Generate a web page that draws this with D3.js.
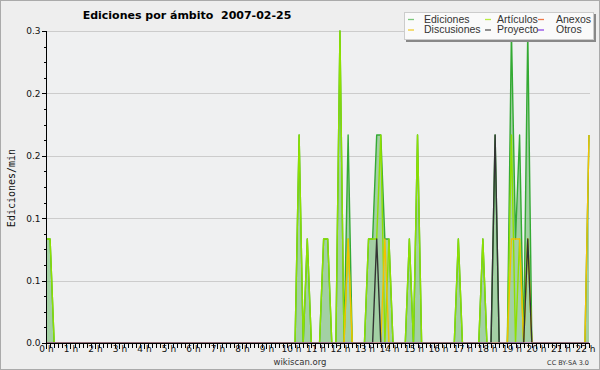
<!DOCTYPE html>
<html>
<head>
<meta charset="utf-8">
<title>Ediciones por ámbito</title>
<script src="https://cdn.jsdelivr.net/npm/d3@7"></script>
<style>
  body { margin: 0; background: #fff; }
  text { font-family: "DejaVu Sans", sans-serif; }
  .axis path, .axis line { stroke: #000; shape-rendering: crispEdges; }
  .axis text { font-size: 9px; fill: #111; }
</style>
</head>
<body>
<script>
// 10-minute bins, 00:00 .. 22:10 (134 bins), edits per minute
var ediciones = [
  0.1,0.1,0,0,0,0, 0,0,0,0,0,0,   // 0 h - 1 h
  0,0,0,0,0,0, 0,0,0,0,0,0,       // 2 h - 3 h
  0,0,0,0,0,0, 0,0,0,0,0,0,       // 4 h - 5 h
  0,0,0,0,0,0, 0,0,0,0,0,0,       // 6 h - 7 h
  0,0,0,0,0,0, 0,0,0,0,0,0,       // 8 h - 9 h
  0,0,0.2,0,0.1,0, 0,0,0.1,0.1,0,0,     // 10 h - 11 h
  0.3,0,0.2,0,0,0, 0,0.1,0.1,0.2,0.2,0.1, // 12 h - 13 h
  0.1,0,0,0,0,0.1, 0,0.2,0,0,0,0,       // 14 h - 15 h
  0,0,0,0,0,0.1, 0,0,0,0,0,0.1,         // 16 h - 17 h
  0,0,0.2,0,0,0, 0.3,0.1,0.2,0,0.3,0,   // 18 h - 19 h
  0,0,0,0,0,0, 0,0,0,0,0,0,             // 20 h - 21 h
  0,0.2                                 // 22 h
];
var articulos = [
  0.1,0.1,0,0,0,0, 0,0,0,0,0,0,
  0,0,0,0,0,0, 0,0,0,0,0,0,
  0,0,0,0,0,0, 0,0,0,0,0,0,
  0,0,0,0,0,0, 0,0,0,0,0,0,
  0,0,0,0,0,0, 0,0,0,0,0,0,
  0,0,0.2,0,0.1,0, 0,0,0.1,0.1,0,0,
  0.3,0,0.1,0,0,0, 0,0.1,0.1,0.1,0.2,0,
  0.1,0,0,0,0,0.1, 0,0.2,0,0,0,0,
  0,0,0,0,0,0.1, 0,0,0,0,0,0.1,
  0,0,0,0,0,0, 0.2,0,0.1,0,0.1,0,
  0,0,0,0,0,0, 0,0,0,0,0,0,
  0,0
];
var anexos = [
  0,0,0,0,0,0, 0,0,0,0,0,0,
  0,0,0,0,0,0, 0,0,0,0,0,0,
  0,0,0,0,0,0, 0,0,0,0,0,0,
  0,0,0,0,0,0, 0,0,0,0,0,0,
  0,0,0,0,0,0, 0,0,0,0,0,0,
  0,0,0,0,0,0, 0,0,0,0,0,0,
  0,0,0,0,0,0, 0,0,0,0,0,0,
  0,0,0,0,0,0, 0,0,0,0,0,0,
  0,0,0,0,0,0, 0,0,0,0,0,0,
  0,0,0,0,0,0, 0,0,0,0,0,0,
  0,0,0,0,0,0, 0,0,0,0,0,0,
  0,0
];
var discusiones = [
  0,0,0,0,0,0, 0,0,0,0,0,0,
  0,0,0,0,0,0, 0,0,0,0,0,0,
  0,0,0,0,0,0, 0,0,0,0,0,0,
  0,0,0,0,0,0, 0,0,0,0,0,0,
  0,0,0,0,0,0, 0,0,0,0,0,0,
  0,0,0,0,0,0, 0,0,0,0,0,0,
  0,0,0.1,0,0,0, 0,0,0,0,0,0.1,
  0,0,0,0,0,0, 0,0,0,0,0,0,
  0,0,0,0,0,0, 0,0,0,0,0,0,
  0,0,0,0,0,0, 0.1,0.1,0.1,0,0.1,0,
  0,0,0,0,0,0, 0,0,0,0,0,0,
  0,0.2
];
var proyecto = [
  0,0,0,0,0,0, 0,0,0,0,0,0,
  0,0,0,0,0,0, 0,0,0,0,0,0,
  0,0,0,0,0,0, 0,0,0,0,0,0,
  0,0,0,0,0,0, 0,0,0,0,0,0,
  0,0,0,0,0,0, 0,0,0,0,0,0,
  0,0,0,0,0,0, 0,0,0,0,0,0,
  0,0,0,0,0,0, 0,0,0,0.1,0,0,
  0,0,0,0,0,0, 0,0,0,0,0,0,
  0,0,0,0,0,0, 0,0,0,0,0,0,
  0,0,0.2,0,0,0, 0,0,0,0,0.1,0,
  0,0,0,0,0,0, 0,0,0,0,0,0,
  0,0
];
var otros = [
  0,0,0,0,0,0, 0,0,0,0,0,0,
  0,0,0,0,0,0, 0,0,0,0,0,0,
  0,0,0,0,0,0, 0,0,0,0,0,0,
  0,0,0,0,0,0, 0,0,0,0,0,0,
  0,0,0,0,0,0, 0,0,0,0,0,0,
  0,0,0,0,0,0, 0,0,0,0,0,0,
  0,0,0,0,0,0, 0,0,0,0,0,0,
  0,0,0,0,0,0, 0,0,0,0,0,0,
  0,0,0,0,0,0, 0,0,0,0,0,0,
  0,0,0,0,0,0, 0,0,0,0,0,0,
  0,0,0,0,0,0, 0,0,0,0,0,0,
  0,0
];

var hourLabels = d3.range(0, 23);           // 0 h .. 22 h
var yTicks = [0, 0.06, 0.12, 0.18, 0.24, 0.3];
var binHours = 1 / 6;

var series = [
  { name: "Ediciones",   values: ediciones,   line: "#33aa33", key: "#7cc87c" },
  { name: "Discusiones", values: discusiones, line: "#f2c200", key: "#f2cc30" },
  { name: "Artículos",   values: articulos,   line: "#8ee000", key: "#b8ec40" },
  { name: "Proyecto",    values: proyecto,    line: "#333333", key: "#555555" },
  { name: "Anexos",      values: anexos,      line: "#f07848", key: "#f07848" },
  { name: "Otros",       values: otros,       line: "#9048e8", key: "#9048e8" }
];

var W = 600, H = 370;
var svg = d3.select("body").append("svg")
    .attr("width", W).attr("height", H);

svg.append("rect")
    .attr("x", 0.5).attr("y", 0.5).attr("width", W - 1).attr("height", H - 1)
    .attr("fill", "#eeeeee").attr("stroke", "#aaaaaa");

var x = d3.scaleLinear()
    .domain([0, (ediciones.length - 1) * binHours])
    .range([46, 589]);
var y = d3.scaleLinear().domain([0, 0.3]).range([343, 31]);

svg.append("clipPath").attr("id", "plotclip")
  .append("rect").attr("x", 46).attr("y", 20).attr("width", 546).attr("height", 322.5);

// plot background
svg.append("rect")
    .attr("x", 46).attr("y", 31).attr("width", 544).attr("height", 312)
    .attr("fill", "#eff0f1");

// grid
svg.append("g").selectAll("line")
    .data(yTicks.slice(1))
    .enter().append("line")
    .attr("x1", 46).attr("x2", 590)
    .attr("y1", function(d) { return Math.round(y(d)) + 0.5; })
    .attr("y2", function(d) { return Math.round(y(d)) + 0.5; })
    .attr("stroke", "#cccccc");

var plot = svg.append("g").attr("clip-path", "url(#plotclip)");

var area = d3.area()
    .x(function(d, i) { return x(i * binHours); })
    .y0(y(0))
    .y1(function(d) { return y(d); });

var line = d3.line()
    .x(function(d, i) { return x(i * binHours); })
    .y(function(d) { return y(d); });

plot.append("path")
    .datum(ediciones)
    .attr("d", area)
    .attr("fill", "#58b058")
    .attr("fill-opacity", 0.5);

var order = ["Ediciones", "Artículos", "Anexos", "Discusiones", "Proyecto", "Otros"];
order.forEach(function(n) {
  var s = series.filter(function(d) { return d.name === n; })[0];
  plot.append("path")
      .datum(s.values)
      .attr("d", line)
      .attr("fill", "none")
      .attr("stroke", s.line)
      .attr("stroke-width", 1.4)
      .attr("stroke-linejoin", "round");
});

// axes
var yAxis = d3.axisLeft(y).tickValues(yTicks).tickFormat(d3.format(".1f")).tickSize(5).tickPadding(1);
svg.append("g").attr("class", "axis")
    .attr("transform", "translate(46.5,0)")
    .call(yAxis)
    .call(function(g) { g.select(".domain").attr("d", "M0," + (y(0.3) + 0.5) + "V" + (y(0) + 0.5)); });

var yMinor = d3.axisLeft(y).tickValues(d3.range(0, 0.3001, 0.015)).tickFormat("").tickSize(3);
svg.append("g").attr("class", "axis")
    .attr("transform", "translate(46.5,0)")
    .call(yMinor)
    .call(function(g) { g.select(".domain").remove(); });

var xMinor = d3.axisBottom(x)
    .tickValues(ediciones.map(function(d, i) { return i * binHours; }))
    .tickFormat("").tickSize(4);
svg.append("g").attr("class", "axis")
    .attr("transform", "translate(0,343.5)")
    .call(xMinor)
    .call(function(g) { g.select(".domain").attr("d", "M46,0H590"); });

var xAxis = d3.axisBottom(x).tickValues(hourLabels)
    .tickFormat(function(d) { return d + " h"; }).tickSize(5);
svg.append("g").attr("class", "axis")
    .attr("transform", "translate(0,343.5)")
    .call(xAxis)
    .call(function(g) {
      g.select(".domain").remove();
      g.selectAll(".tick text").attr("y", 2.5);
    });

// titles
svg.append("text")
    .attr("x", 187).attr("y", 19)
    .attr("text-anchor", "middle")
    .style("font-size", "11px").style("font-weight", "bold")
    .attr("xml:space", "preserve")
    .text("Ediciones por ámbito  2007-02-25");

svg.append("text")
    .attr("transform", "translate(15,188) rotate(-90)")
    .attr("text-anchor", "middle")
    .style("font-family", "'DejaVu Sans Mono', monospace")
    .style("font-size", "10px")
    .attr("fill", "#111")
    .text("Ediciones/min");

svg.append("text")
    .attr("x", 300).attr("y", 364.5)
    .attr("text-anchor", "middle")
    .style("font-size", "8.5px").attr("fill", "#333")
    .text("wikiscan.org");

svg.append("text")
    .attr("x", 589).attr("y", 364.5)
    .attr("text-anchor", "end")
    .style("font-size", "6.5px").attr("fill", "#333")
    .text("CC BY-SA 3.0");

// legend
var lg = svg.append("g");
lg.append("rect").attr("x", 406).attr("y", 14).attr("width", 190).attr("height", 28).attr("fill", "#888");
lg.append("rect").attr("x", 404.5).attr("y", 12.5).attr("width", 189).attr("height", 27)
    .attr("fill", "#fafafa").attr("stroke", "#cccccc");

var legendCols = [408, 485, 538];
var legendTextX = [424, 497, 556];
var legendRows = [19, 29.5];
var legendLayout = [
  ["Ediciones", 0, 0], ["Discusiones", 0, 1],
  ["Artículos", 1, 0], ["Proyecto", 1, 1],
  ["Anexos", 2, 0], ["Otros", 2, 1]
];
legendLayout.forEach(function(it) {
  var s = series.filter(function(d) { return d.name === it[0]; })[0];
  var yy = legendRows[it[2]];
  lg.append("line")
      .attr("x1", legendCols[it[1]]).attr("x2", legendCols[it[1]] + 6)
      .attr("y1", yy + 0.5).attr("y2", yy + 0.5)
      .attr("stroke", s.key).attr("stroke-width", 1.3);
  lg.append("text")
      .attr("x", legendTextX[it[1]]).attr("y", yy + 3.5)
      .style("font-family", "'Liberation Sans', sans-serif")
      .style("font-size", "10.5px").attr("fill", "#333")
      .text(s.name);
});
</script>
</body>
</html>
